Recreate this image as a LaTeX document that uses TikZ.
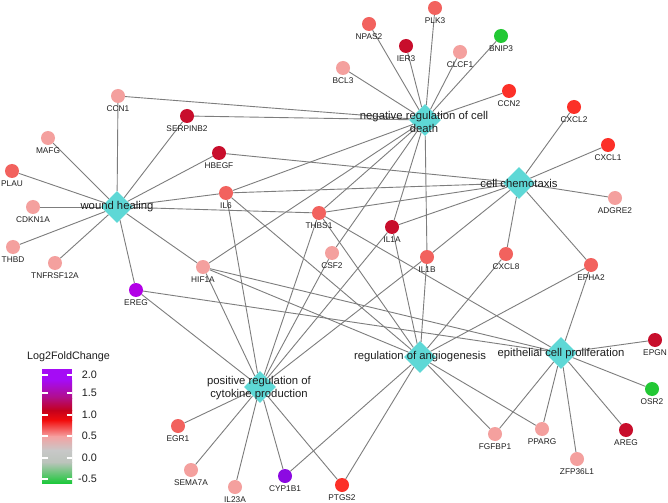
\documentclass[tikz,border=0pt]{standalone}
\usepackage{fontspec}
\setmainfont{Liberation Sans}
\usetikzlibrary{shapes.geometric}
\pgfdeclarelayer{bg}
\pgfsetlayers{bg,main}
\definecolor{hubc}{RGB}{94,216,214}
\definecolor{edgec}{RGB}{125,125,125}
\definecolor{txt}{RGB}{30,30,30}
\definecolor{lp}{RGB}{244,160,158}
\definecolor{sal}{RGB}{242,98,94}
\definecolor{rd}{RGB}{252,48,40}
\definecolor{dred}{RGB}{200,14,44}
\definecolor{pura}{RGB}{178,0,230}
\definecolor{purb}{RGB}{140,10,226}
\definecolor{grn}{RGB}{34,200,52}
\definecolor{cbA}{RGB}{165,12,245}
\definecolor{cbB}{RGB}{178,14,130}
\definecolor{cbC}{RGB}{196,0,28}
\definecolor{cbD}{RGB}{242,12,12}
\definecolor{cbE}{RGB}{245,160,160}
\definecolor{cbF}{RGB}{200,200,200}
\definecolor{cbG}{RGB}{188,196,188}
\definecolor{cbH}{RGB}{30,200,60}
\tikzset{
  gene/.style={circle, minimum size=14bp, inner sep=0pt, draw=none},
  glab/.style={font=\fontsize{8.3bp}{9bp}\selectfont, text=txt, inner sep=0pt, label distance=2.5bp},
  hub/.style={diamond, fill=hubc, minimum width=32bp, minimum height=32bp, inner sep=0pt, draw=none},
  hublab/.style={font=\fontsize{11.3bp}{13bp}\selectfont, text=txt, align=center, inner sep=0pt},
  edge/.style={draw=edgec, line width=0.9bp},
  legtxt/.style={font=\fontsize{10.8bp}{12bp}\selectfont, text=txt, inner sep=0pt},
  tick/.style={draw=white, line width=1.1bp}
}
\newcommand{\gn}[4]{\node[gene, fill=#4, label={[glab]below:#2}] (#1) at (#3) {};}
\begin{document}
\begin{tikzpicture}[x=1bp,y=-1bp]
\useasboundingbox (0,0) rectangle (668,503);

% hubs
\node[hub] (NRCD) at (425,120) {};
\node[hub] (CC) at (519,183) {};
\node[hub] (WH) at (117,207) {};
\node[hub] (PRCP) at (260,387) {};
\node[hub] (ROA) at (420,357) {};
\node[hub] (EPC) at (561,353) {};

% genes
\gn{CCN1}{CCN1}{118,96}{lp}
\gn{SERPINB2}{SERPINB2}{187,116}{dred}
\gn{MAFG}{MAFG}{48,138}{lp}
\gn{HBEGF}{HBEGF}{219,153}{dred}
\gn{PLAU}{PLAU}{12,171}{sal}
\gn{IL6}{IL6}{226,193}{sal}
\gn{CDKN1A}{CDKN1A}{33,207}{lp}
\gn{THBD}{THBD}{13,247}{lp}
\gn{TNFRSF12A}{TNFRSF12A}{55,263}{lp}
\gn{THBS1}{THBS1}{319,213}{sal}
\gn{HIF1A}{HIF1A}{203,267}{lp}
\gn{EREG}{EREG}{136,290}{pura}
\gn{CSF2}{CSF2}{332,253}{lp}
\gn{IL1A}{IL1A}{392,227}{dred}
\gn{IL1B}{IL1B}{427,257}{sal}
\gn{CXCL8}{CXCL8}{506,254}{sal}
\gn{EPHA2}{EPHA2}{591,265}{sal}
\gn{PLK3}{PLK3}{435,8}{sal}
\gn{NPAS2}{NPAS2}{369,24}{sal}
\gn{BNIP3}{BNIP3}{501,36}{grn}
\gn{IER3}{IER3}{406,46}{dred}
\gn{CLCF1}{CLCF1}{460,52}{lp}
\gn{BCL3}{BCL3}{343,68}{lp}
\gn{CCN2}{CCN2}{509,91}{rd}
\gn{CXCL2}{CXCL2}{574,107}{rd}
\gn{CXCL1}{CXCL1}{608,145}{rd}
\gn{ADGRE2}{ADGRE2}{615,198}{lp}
\gn{EGR1}{EGR1}{178,426}{sal}
\gn{SEMA7A}{SEMA7A}{191,470}{lp}
\gn{IL23A}{IL23A}{235,487}{lp}
\gn{CYP1B1}{CYP1B1}{285,476}{purb}
\gn{PTGS2}{PTGS2}{342,485}{rd}
\gn{FGFBP1}{FGFBP1}{495,434}{lp}
\gn{PPARG}{PPARG}{542,429}{lp}
\gn{AREG}{AREG}{626,430}{dred}
\gn{ZFP36L1}{ZFP36L1}{577,459}{lp}
\gn{EPGN}{EPGN}{655,340}{dred}
\gn{OSR2}{OSR2}{652,389}{grn}

% background and edges
\begin{pgfonlayer}{bg}
\fill[white] (0,0) rectangle (668,503);
\foreach \g in {PLK3,NPAS2,IER3,CLCF1,BNIP3,BCL3,CCN2,CCN1,SERPINB2,IL6,HIF1A,THBS1,CSF2,IL1A,IL1B}
  \draw[edge] (NRCD) -- (\g);
\foreach \g in {HBEGF,IL6,THBS1,IL1A,IL1B,CXCL8,EPHA2,CXCL2,CXCL1,ADGRE2}
  \draw[edge] (CC) -- (\g);
\foreach \g in {CCN1,SERPINB2,MAFG,HBEGF,PLAU,CDKN1A,THBD,TNFRSF12A,IL6,THBS1,HIF1A,EREG}
  \draw[edge] (WH) -- (\g);
\foreach \g in {HIF1A,EREG,IL6,THBS1,CSF2,IL1A,IL1B,EGR1,SEMA7A,IL23A,CYP1B1,PTGS2}
  \draw[edge] (PRCP) -- (\g);
\foreach \g in {IL6,THBS1,HIF1A,IL1A,IL1B,CXCL8,EPHA2,CYP1B1,PTGS2,FGFBP1,PPARG}
  \draw[edge] (ROA) -- (\g);
\foreach \g in {THBS1,HIF1A,EREG,EPHA2,FGFBP1,PPARG,ZFP36L1,AREG,OSR2,EPGN}
  \draw[edge] (EPC) -- (\g);
\end{pgfonlayer}

% hub labels
\node[hublab] (NRCDt) at (424,121.5) {negative regulation of cell\\death};
\node[hublab] (CCt) at (519,183) {cell chemotaxis};
\node[hublab] (WHt) at (117,207) {wound healing};
\node[hublab] (PRCPt) at (259,388.5) {positive regulation of\\cytokine production};
\node[hublab] (ROAt) at (420,357) {regulation of angiogenesis};
\node[hublab] (EPCt) at (561,354) {epithelial cell proliferation};

% legend
\node[legtxt] (legtitle) at (68.5,357) {Log2FoldChange};
\fill[cbA] (42,369) rectangle (72,380.5);
\shade[top color=cbA, bottom color=cbB] (42,380) rectangle (72,398.5);
\shade[top color=cbB, bottom color=cbC] (42,398) rectangle (72,410.5);
\shade[top color=cbC, bottom color=cbD] (42,410) rectangle (72,420.5);
\shade[top color=cbD, bottom color=cbE] (42,420) rectangle (72,436.5);
\shade[top color=cbE, bottom color=cbF] (42,436) rectangle (72,450.5);
\shade[top color=cbF, bottom color=cbG] (42,450) rectangle (72,462.5);
\shade[top color=cbG, bottom color=cbH] (42,462) rectangle (72,483);
\foreach \yy/\t in {375/2.0,393/1.5,415/1.0,436/0.5,458/0.0,479/-0.5}{
  \draw[tick] (42,\yy) -- (47.5,\yy);
  \draw[tick] (66.5,\yy) -- (72,\yy);
  \node[legtxt, anchor=east] at (97,\yy) {\t};
}
\end{tikzpicture}
\end{document}
